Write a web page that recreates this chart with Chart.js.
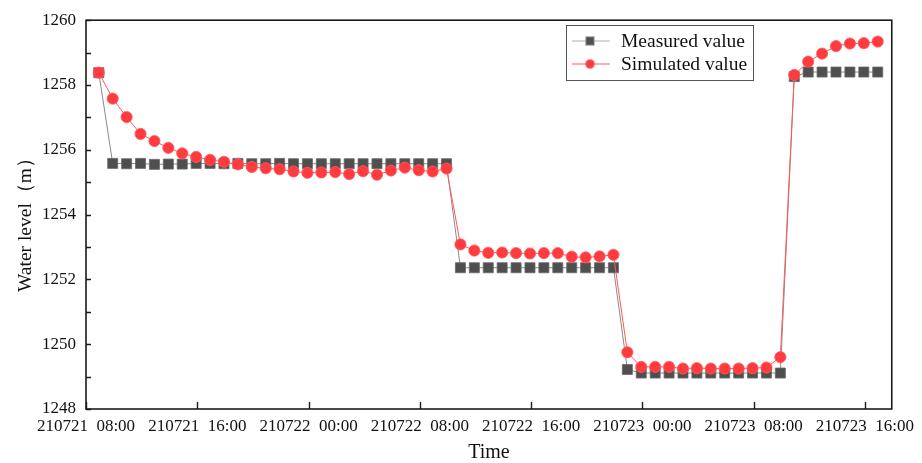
<!DOCTYPE html>
<html>
<head>
<meta charset="utf-8">
<title>Water level</title>
<script src="https://cdn.jsdelivr.net/npm/chart.js@4.4.0/dist/chart.umd.min.js"></script>
<style>
  html, body { margin: 0; padding: 0; background: #fff; }
  #wrap { width: 922px; height: 463px; position: relative; }
</style>
</head>
<body>
<div id="wrap"><canvas id="c" width="922" height="463"></canvas></div>
<script>
// Hourly water level readings (m), 210721 to 210723
const measured = [
  1258.38,
  1255.58, 1255.57, 1255.58, 1255.55, 1255.56, 1255.56, 1255.58, 1255.58, 1255.57, 1255.58,
  1255.57, 1255.57, 1255.58, 1255.57, 1255.57, 1255.57, 1255.57, 1255.57, 1255.57, 1255.57,
  1255.57, 1255.57, 1255.57, 1255.57, 1255.57,
  1252.36, 1252.36, 1252.36, 1252.36, 1252.36, 1252.36, 1252.36, 1252.36, 1252.36, 1252.36, 1252.36, 1252.36,
  1249.22,
  1249.11, 1249.11, 1249.11, 1249.11, 1249.11, 1249.11, 1249.11, 1249.11, 1249.11, 1249.11, 1249.11,
  1258.26,
  1258.40, 1258.40, 1258.40, 1258.40, 1258.40, 1258.40
];
const simulated = [
  1258.38, 1257.58, 1257.01, 1256.49, 1256.27, 1256.06, 1255.89, 1255.78, 1255.69, 1255.63,
  1255.55, 1255.47, 1255.43, 1255.40, 1255.33, 1255.29, 1255.30, 1255.31, 1255.25, 1255.34,
  1255.23, 1255.36, 1255.45, 1255.37, 1255.33, 1255.42,
  1253.08, 1252.89, 1252.82, 1252.83, 1252.81, 1252.80, 1252.81, 1252.81, 1252.70, 1252.68, 1252.71, 1252.76,
  1249.75, 1249.30, 1249.30, 1249.30, 1249.25, 1249.26, 1249.25, 1249.25, 1249.25, 1249.26, 1249.28, 1249.60,
  1258.31, 1258.72, 1258.97, 1259.20, 1259.28, 1259.29, 1259.34
];
const seriesNames = ['Measured value', 'Simulated value'];
const xTickLabels = [
  '210721\u200208:00', '210721\u200216:00', '210722\u200200:00', '210722\u200208:00',
  '210722\u200216:00', '210723\u200200:00', '210723\u200208:00', '210723\u200216:00'
];
const xTitle = 'Time';
const yTitle = 'Water level\uff08m\uff09';

// first reading time, in hours after 210721 08:00; readings are hourly
const firstReading = 0.92;
const hours = measured.map((_, i) => firstReading + i);
const xMax = 57.93;

const SERIF = '"Liberation Serif", "Times New Roman", serif';
const TEXT = '#111';

const styles = [
  { line: '#8a8a8a', fill: '#4f4f4f', edge: '#6a6a6a', point: 'rect', r: 7.1, lr: 5.4 },
  { line: '#ff5a5a', fill: '#ff3b3f', edge: '#ff5c60', point: 'circle', r: 5.6, lr: 4.2 }
];

const frame = {
  id: 'frame',
  afterDraw(chart) {
    const { ctx, chartArea: a, scales } = chart;
    const xs = scales.x, ys = scales.y;
    ctx.save();
    ctx.strokeStyle = '#1c1c1c';
    ctx.lineWidth = 1.6;
    ctx.strokeRect(a.left, a.top, a.right - a.left, a.bottom - a.top);

    // inward ticks: every metre on the left axis, every 8 h on the bottom axis
    ctx.lineWidth = 1.4;
    ctx.beginPath();
    for (let v = ys.min; v <= ys.max + 1e-9; v += 1) {
      const y = Math.round(ys.getPixelForValue(v)) + 0.5;
      ctx.moveTo(a.left, y); ctx.lineTo(a.left + 5, y);
    }
    xs.ticks.forEach(t => {
      const x = Math.round(xs.getPixelForValue(t.value)) + 0.5;
      ctx.moveTo(x, a.bottom); ctx.lineTo(x, a.bottom - 7);
    });
    ctx.stroke();

    // axis titles
    ctx.fillStyle = TEXT;
    ctx.font = '20px ' + SERIF;
    ctx.textAlign = 'center';
    ctx.textBaseline = 'alphabetic';
    ctx.fillText(xTitle, (a.left + a.right) / 2, 458);
    ctx.save();
    ctx.translate(30.5, 220);
    ctx.rotate(-Math.PI / 2);
    ctx.font = '19.5px ' + SERIF;
    ctx.fillText(yTitle, 0, 0);
    ctx.restore();

    // legend
    const box = { x: 566.5, y: 25.5, w: 187, h: 55 };
    ctx.strokeStyle = '#555';
    ctx.lineWidth = 1;
    ctx.strokeRect(box.x, box.y, box.w, box.h);
    ctx.font = '19.5px ' + SERIF;
    ctx.textAlign = 'left';
    ctx.textBaseline = 'middle';
    const rows = [41, 64];
    seriesNames.forEach((name, i) => {
      const s = styles[i], y = rows[i];
      ctx.strokeStyle = i === 0 ? '#b0b0b0' : '#ff5a5a';
      ctx.lineWidth = 1.2;
      ctx.beginPath(); ctx.moveTo(572, y); ctx.lineTo(610, y); ctx.stroke();
      ctx.fillStyle = s.fill;
      ctx.strokeStyle = s.edge;
      Chart.helpers.drawPoint(ctx, { pointStyle: s.point, radius: s.lr, borderWidth: 0.8, rotation: 0 }, 590, y);
      ctx.fillStyle = TEXT;
      ctx.fillText(name, 621, y + 1);
    });
    ctx.restore();
  }
};

const datasets = [measured, simulated].map((vals, i) => ({
  label: seriesNames[i],
  data: vals.map((v, k) => ({ x: hours[k], y: v })),
  borderColor: styles[i].line,
  borderWidth: 1,
  pointStyle: styles[i].point,
  pointRadius: styles[i].r,
  pointBackgroundColor: styles[i].fill,
  pointBorderColor: styles[i].edge,
  pointBorderWidth: 0.8,
  tension: 0,
  order: i === 0 ? 1 : 0,
  clip: false
}));

new Chart(document.getElementById('c'), {
  type: 'line',
  data: { datasets },
  options: {
    responsive: false,
    devicePixelRatio: 1,
    animation: false,
    events: [],
    layout: { padding: { left: 0, top: 14.5, right: 29, bottom: 0 } },
    plugins: { legend: { display: false }, tooltip: { enabled: false } },
    scales: {
      x: {
        type: 'linear',
        min: 0,
        max: xMax,
        grid: { display: false, drawTicks: false },
        border: { display: false },
        afterFit: s => { s.height = 54; },
        ticks: {
          stepSize: 8,
          includeBounds: false,
          autoSkip: false,
          maxRotation: 0,
          padding: 7,
          color: TEXT,
          font: { family: SERIF, size: 17 },
          callback: v => xTickLabels[Math.round(v / 8)] ?? ''
        }
      },
      y: {
        type: 'linear',
        min: 1248,
        max: 1260,
        grid: { display: false, drawTicks: false },
        border: { display: false },
        afterFit: s => { s.width = 86; },
        ticks: {
          stepSize: 2,
          padding: 10,
          color: TEXT,
          font: { family: SERIF, size: 17 },
          callback: v => String(v)
        }
      }
    }
  },
  plugins: [frame]
});
</script>
</body>
</html>
